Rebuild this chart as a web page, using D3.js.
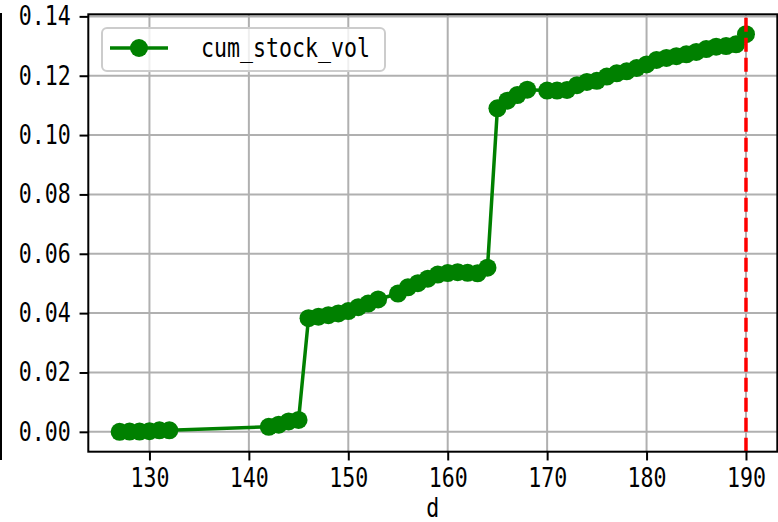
<!DOCTYPE html>
<html>
<head>
<meta charset="utf-8">
<script src="https://cdn.jsdelivr.net/npm/d3@7"></script>
<style>
  html, body { margin: 0; padding: 0; background: #fff; }
  svg { display: block; }
</style>
</head>
<body>
<svg id="chart" width="778" height="522"></svg>
<script>
const days = [127,128,129,130,131,132,
  142,143,144,145,
  146,147,148,149,150,151,152,153,
  155,156,157,158,159,160,161,162,163,164,
  165,166,167,168,
  170,171,172,173,174,175,176,177,178,179,180,181,182,183,184,185,186,187,188,189,190];
const cumStockVol = [0.0000,0.0001,0.0001,0.0002,0.0005,0.0005,
  0.0017,0.0024,0.0035,0.0040,
  0.0383,0.0388,0.0393,0.0399,0.0407,0.0420,0.0432,0.0446,
  0.0466,0.0487,0.0501,0.0516,0.0530,0.0535,0.0538,0.0536,0.0534,0.0553,
  0.1090,0.1116,0.1135,0.1153,
  0.1150,0.1150,0.1152,0.1168,0.1179,0.1183,0.1197,0.1208,0.1215,0.1226,0.1238,0.1253,0.1260,0.1266,0.1272,0.1280,0.1290,0.1298,0.1300,0.1306,0.1340];
const xTicks = [130,140,150,160,170,180,190];
const yTicks = [0.00,0.02,0.04,0.06,0.08,0.10,0.12,0.14];
const yTickLabels = ["0.00","0.02","0.04","0.06","0.08","0.10","0.12","0.14"];
const seriesName = "cum_stock_vol";
const xLabel = "d";
const markerDay = 190;

const FONT = "'DejaVu Sans Mono', monospace";
const FS = 26;
const CW = FS * 0.5;

const L = 88.3, R = 777.3, T = 14.3, B = 451.7;
const svg = d3.select("#chart");

const xMin = d3.min(days), xMax = d3.max(days);
const xPad = (xMax - xMin) * 0.05;
const x = d3.scaleLinear().domain([xMin - xPad, xMax + xPad]).range([L, R]);
const yMinD = d3.min(cumStockVol), yMaxD = d3.max(cumStockVol);
const yPad = (yMaxD - yMinD) * 0.05;
const y = d3.scaleLinear().domain([yMinD - yPad, yMaxD + yPad]).range([B, T]);

// stray spine of neighbouring panel at far left
svg.append("line").attr("x1", 1).attr("x2", 1).attr("y1", 13).attr("y2", 460)
  .attr("stroke", "#000").attr("stroke-width", 2);

// grid
const grid = svg.append("g");
grid.selectAll("line.gx").data(xTicks).join("line")
  .attr("x1", d => x(d)).attr("x2", d => x(d)).attr("y1", T).attr("y2", B)
  .attr("stroke", "#b0b0b0").attr("stroke-width", 2);
grid.selectAll("line.gy").data(yTicks).join("line")
  .attr("x1", L).attr("x2", R).attr("y1", d => y(d)).attr("y2", d => y(d))
  .attr("stroke", "#b0b0b0").attr("stroke-width", 2);

// data line
const pts = days.map((d, i) => [d, cumStockVol[i]]);
svg.append("path").datum(pts)
  .attr("d", d3.line().x(d => x(d[0])).y(d => y(d[1])))
  .attr("fill", "none").attr("stroke", "#008000").attr("stroke-width", 3.5)
  .attr("stroke-linejoin", "round");
svg.append("g").selectAll("circle").data(pts).join("circle")
  .attr("cx", d => x(d[0])).attr("cy", d => y(d[1])).attr("r", 9)
  .attr("fill", "#008000");

// red dashed vertical line
svg.append("line").attr("x1", x(markerDay)).attr("x2", x(markerDay))
  .attr("y1", B).attr("y2", T)
  .attr("stroke", "#ff0000").attr("stroke-width", 3.5).attr("stroke-dasharray", "14 6");

// axes
const xAxis = d3.axisBottom(x).tickValues(xTicks).tickSize(8.75).tickPadding(6).tickFormat(d3.format("d"));
const gx = svg.append("g").attr("transform", `translate(0,${B})`).call(xAxis);
const yAxis = d3.axisLeft(y).tickValues(yTicks).tickSize(8.75).tickPadding(8.75)
  .tickFormat((d, i) => yTickLabels[i]);
const gy = svg.append("g").attr("transform", `translate(${L},0)`).call(yAxis);
[gx, gy].forEach(g => {
  g.select(".domain").remove();
  g.selectAll(".tick line").attr("stroke", "#000").attr("stroke-width", 2);
  g.selectAll(".tick text")
    .attr("font-family", FONT).attr("font-size", FS).attr("fill", "#000")
    .attr("lengthAdjust", "spacingAndGlyphs")
    .attr("textLength", function() { return this.textContent.length * CW; });
});
gx.selectAll(".tick text").attr("dy", "0.8em");

// spines
svg.append("rect").attr("x", L).attr("y", T).attr("width", R - L).attr("height", B - T)
  .attr("fill", "none").attr("stroke", "#000").attr("stroke-width", 2);

// x label
svg.append("text").attr("x", (L + R) / 2).attr("y", 517).attr("text-anchor", "middle")
  .attr("font-family", FONT).attr("font-size", FS).attr("fill", "#000")
  .attr("lengthAdjust", "spacingAndGlyphs").attr("textLength", xLabel.length * CW)
  .text(xLabel);

// legend
const lg = svg.append("g");
lg.append("rect").attr("x", 102).attr("y", 28).attr("width", 283).attr("height", 43).attr("rx", 5)
  .attr("fill", "#fff").attr("fill-opacity", 0.8).attr("stroke", "#cccccc").attr("stroke-width", 2);
lg.append("line").attr("x1", 110).attr("x2", 168).attr("y1", 48).attr("y2", 48)
  .attr("stroke", "#008000").attr("stroke-width", 3.5);
lg.append("circle").attr("cx", 139).attr("cy", 48).attr("r", 9).attr("fill", "#008000");
lg.append("text").attr("x", 201).attr("y", 57)
  .attr("font-family", FONT).attr("font-size", FS).attr("fill", "#000")
  .attr("lengthAdjust", "spacingAndGlyphs").attr("textLength", seriesName.length * CW)
  .text(seriesName);
</script>
</body>
</html>
